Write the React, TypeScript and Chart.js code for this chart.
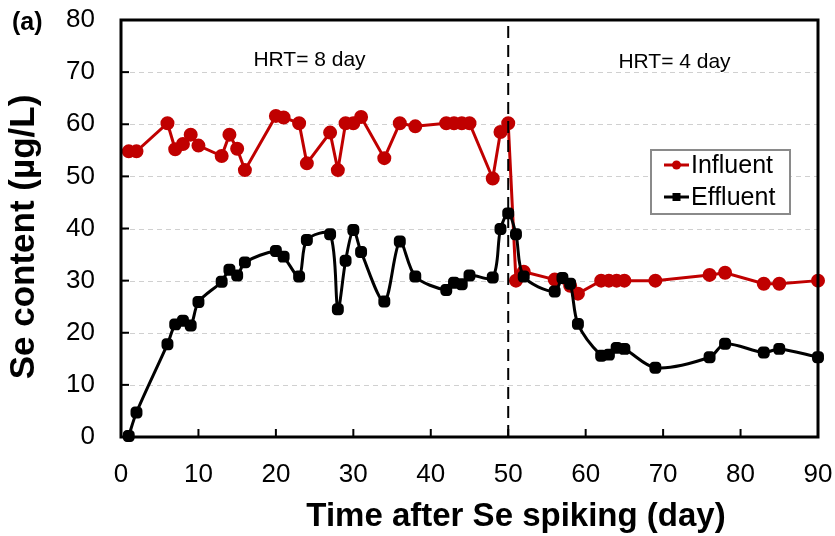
import React, { useEffect, useRef } from "react";
import { Chart, registerables } from "chart.js";

Chart.register(...registerables);

const days: number[] = [1, 2, 6, 7, 8, 9, 10, 13, 14, 15, 16, 20, 21, 23, 24, 27, 28, 29, 30, 31, 34, 36, 38, 42, 43, 44, 45, 48, 49, 50, 51, 52, 56, 58, 59, 62, 63, 64, 65, 69, 76, 78, 83, 85, 90];
const influent: number[] = [54.8, 54.8, 60.2, 55.2, 56.2, 58, 55.9, 53.9, 58, 55.3, 51.2, 61.6, 61.3, 60.2, 52.5, 58.4, 51.2, 60.2, 60.2, 61.4, 53.5, 60.2, 59.6, 60.2, 60.2, 60.2, 60.2, 49.6, 58.5, 60.2, 30.0, 31.7, 30.2, 29.0, 27.5, 30, 30, 30, 30, 30, 31.1, 31.5, 29.4, 29.4, 30];

const effDays: number[] = [1, 2, 6, 7, 8, 9, 10, 13, 14, 15, 16, 20, 21, 23, 24, 27, 28, 29, 30, 31, 34, 36, 38, 42, 43, 44, 45, 48, 49, 50, 51, 52, 56, 57, 58, 59, 62, 63, 64, 65, 69, 76, 78, 83, 85, 90];
const effluent: number[] = [0.2, 4.7, 17.8, 21.6, 22.3, 21.4, 25.9, 29.8, 32.1, 31, 33.5, 35.7, 34.6, 30.8, 37.8, 38.9, 24.5, 33.8, 39.7, 35.5, 26, 37.5, 30.8, 28.2, 29.6, 29.3, 31, 30.6, 39.9, 42.9, 38.9, 30.8, 27.9, 30.5, 29.4, 21.7, 15.6, 15.8, 17.1, 16.9, 13.3, 15.3, 17.9, 16.2, 16.9, 15.3];

const xTicks: number[] = [0, 10, 20, 30, 40, 50, 60, 70, 80, 90];
const yTicks: number[] = [0, 10, 20, 30, 40, 50, 60, 70, 80];
const seriesNames: string[] = ["Influent", "Effluent"];
const hrtLabels: string[] = ["HRT= 8 day", "HRT= 4 day"];
const switchDay = 50;

const RED = "#C00000";
const FONT = "'Liberation Sans', Arial, sans-serif";

const zeroPad = (s: any) => {
  s.paddingTop = 0;
  s.paddingBottom = 0;
  s.paddingLeft = 0;
  s.paddingRight = 0;
};

const overlay = {
  id: "overlay",
  beforeDatasetsDraw(chart: any) {
    const { ctx, chartArea: a, scales } = chart;
    const y = scales.y;
    ctx.save();
    ctx.strokeStyle = "#d0d0d0";
    ctx.lineWidth = 1;
    ctx.setLineDash([5, 4]);
    for (const v of yTicks) {
      if (v === yTicks[0] || v === yTicks[yTicks.length - 1]) continue;
      const py = Math.round(y.getPixelForValue(v)) + 0.5;
      ctx.beginPath();
      ctx.moveTo(a.left, py);
      ctx.lineTo(a.right, py);
      ctx.stroke();
    }
    ctx.restore();
  },
  afterDatasetsDraw(chart: any) {
    const { ctx, chartArea: a, scales } = chart;
    const x = scales.x;
    const y = scales.y;
    ctx.save();
    const px = x.getPixelForValue(switchDay);
    ctx.strokeStyle = "#000";
    ctx.lineWidth = 2;
    ctx.setLineDash([12, 7]);
    ctx.beginPath();
    ctx.moveTo(px, a.top + 6);
    ctx.lineTo(px, a.bottom);
    ctx.stroke();
    ctx.setLineDash([]);
    ctx.lineWidth = 3;
    ctx.strokeRect(a.left, a.top, a.right - a.left, a.bottom - a.top);
    ctx.lineWidth = 2;
    for (const v of yTicks) {
      const py = y.getPixelForValue(v);
      ctx.beginPath();
      ctx.moveTo(a.left, py);
      ctx.lineTo(a.left + 8, py);
      ctx.stroke();
    }
    for (const v of xTicks) {
      const pxx = x.getPixelForValue(v);
      ctx.beginPath();
      ctx.moveTo(pxx, a.bottom);
      ctx.lineTo(pxx, a.bottom - 8);
      ctx.stroke();
    }
    ctx.fillStyle = "#000";
    ctx.font = `21px ${FONT}`;
    ctx.textAlign = "center";
    ctx.textBaseline = "middle";
    ctx.fillText(hrtLabels[0], 309.5, 60);
    ctx.fillText(hrtLabels[1], 674.5, 62);
    ctx.strokeStyle = "#8a8a8a";
    ctx.lineWidth = 2;
    ctx.fillStyle = "#fff";
    ctx.fillRect(651, 150, 139, 64);
    ctx.strokeRect(651, 150, 139, 64);
    const rows = [
      { name: seriesNames[0], color: RED, y: 165, style: "circle" },
      { name: seriesNames[1], color: "#000", y: 197, style: "rect" },
    ];
    for (const r of rows) {
      ctx.strokeStyle = r.color;
      ctx.fillStyle = r.color;
      ctx.lineWidth = 3;
      ctx.beginPath();
      ctx.moveTo(664, r.y);
      ctx.lineTo(689, r.y);
      ctx.stroke();
      ctx.beginPath();
      if (r.style === "circle") {
        ctx.arc(676.5, r.y, 4.5, 0, Math.PI * 2);
      } else {
        ctx.rect(672.5, r.y - 4, 8, 8);
      }
      ctx.fill();
      ctx.fillStyle = "#000";
      ctx.font = `25px ${FONT}`;
      ctx.textAlign = "left";
      ctx.fillText(r.name, 691, r.y + 1);
    }
    ctx.font = `bold 25px ${FONT}`;
    ctx.textAlign = "left";
    ctx.fillText("(a)", 12, 23);
    ctx.font = `bold 33px ${FONT}`;
    ctx.textAlign = "center";
    ctx.fillText("Time after Se spiking (day)", 516, 517);
    ctx.translate(24, 237);
    ctx.rotate(-Math.PI / 2);
    ctx.font = `bold 35px ${FONT}`;
    ctx.fillText("Se content (µg/L)", 0, 0);
    ctx.restore();
  },
};

export default function App() {
  const ref = useRef<HTMLCanvasElement>(null);
  useEffect(() => {
    if (!ref.current) return;
    const chart = new Chart(ref.current, {
      type: "scatter",
      data: {
        datasets: [
          {
            label: seriesNames[0],
            data: days.map((d, i) => ({ x: d, y: influent[i] })),
            showLine: true,
            borderColor: RED,
            backgroundColor: RED,
            borderWidth: 3,
            pointRadius: 5.5,
            pointHoverRadius: 5.5,
            pointStyle: "circle",
            tension: 0,
            clip: false,
            order: 1,
          },
          {
            label: seriesNames[1],
            data: effDays.map((d, i) => ({ x: d, y: effluent[i] })),
            showLine: true,
            borderColor: "#000",
            backgroundColor: "#000",
            borderWidth: 3,
            pointRadius: 5.2,
            pointHoverRadius: 5.2,
            pointStyle: "rectRounded",
            tension: 0.3,
            clip: false,
            order: 0,
          },
        ] as any,
      },
      options: {
        responsive: false,
        animation: false,
        events: [],
        layout: { padding: { top: 20, right: 17, left: 0, bottom: 0 } },
        plugins: { legend: { display: false }, tooltip: { enabled: false } },
        scales: {
          x: {
            type: "linear",
            min: 0,
            max: 90,
            afterFit: (s: any) => { s.height = 99; zeroPad(s); },
            afterBuildTicks: (s: any) => { s.ticks = xTicks.map((v) => ({ value: v })); },
            grid: { display: false, drawTicks: false },
            border: { display: false },
            ticks: { color: "#000", font: { size: 26, family: FONT }, padding: 22, maxRotation: 0 },
          },
          y: {
            type: "linear",
            min: 0,
            max: 80,
            afterFit: (s: any) => { s.width = 121; zeroPad(s); },
            afterBuildTicks: (s: any) => { s.ticks = yTicks.map((v) => ({ value: v })); },
            grid: { display: false, drawTicks: false },
            border: { display: false },
            ticks: { color: "#000", font: { size: 26, family: FONT }, padding: 26 },
          },
        },
      },
      plugins: [overlay],
    } as any);
    return () => chart.destroy();
  }, []);
  return (
    <div style={{ position: "absolute", left: 0, top: 0, width: 835, height: 536, background: "#fff" }}>
      <canvas ref={ref} width={835} height={536} style={{ display: "block" }} />
    </div>
  );
}
